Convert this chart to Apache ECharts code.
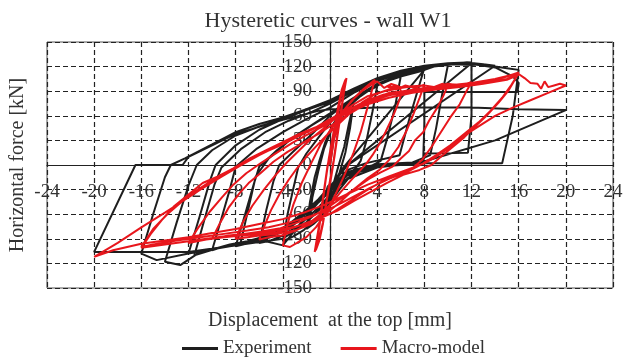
<!DOCTYPE html>
<html>
<head>
<meta charset="utf-8">
<script src="https://cdn.jsdelivr.net/npm/echarts@6/dist/echarts.min.js"></script>
<style>html,body{margin:0;padding:0;background:#fff}#c{width:623px;height:357px}</style>
</head>
<body>
<div id="c"></div>
<script>
// ---- Text ----
var chartTitle = 'Hysteretic curves - wall W1';
var xName = 'Displacement  at the top [mm]';
var yName = 'Horizontal force [kN]';
var seriesNames = ['Experiment', 'Macro-model'];

// ---- Axis ticks ----
var xTicks = {min: -24, max: 24, step: 4};
var yTicks = {min: -150, max: 150, step: 30};

// ---- Experiment (black) cycles: [displacement mm, force kN] ----
var expCycle2 = [[0,0],[0.3,30],[0.7,52],[1.2,65],[1.6,72],[2,76],[1.7,45],[1.3,15],[0.9,-5],[0.4,-30],[-0.2,-50],[-0.8,-64],[-1.4,-72],[-2,-78],[-1.7,-45],[-1.3,-15],[-0.9,5],[-0.4,28],[0.2,48],[0.8,62],[1.4,71],[2,75]];
var expCycle2b = [[1.6,50],[1.2,22],[0.7,-2],[0.2,-28],[-0.5,-52],[-1.2,-68],[-1.8,-76],[-1.5,-40],[-1.0,-8],[-0.5,20],[0.2,46],[1.0,64],[1.8,74]];
var expCycle4 = [[2.6,84],[3.3,91],[4,96],[3.6,65],[3.1,30],[2.6,5],[1.8,-12],[0.8,-30],[-0.2,-50],[-1.2,-66],[-2.2,-79],[-3.1,-87],[-4,-93],[-3.6,-60],[-3.1,-28],[-2.7,-3],[-2,14],[-1,33],[0,52],[1,68],[2,80],[3,89],[4,97]];
var expCycle6 = [[5,103],[6,108],[5.5,70],[4.8,30],[4.3,5],[3,-5],[1.5,-16],[0.3,-32],[-1,-52],[-2.5,-72],[-4,-86],[-5,-92],[-6,-95],[-5.4,-55],[-4.8,-20],[-4.3,0],[-3,18],[-1.5,38],[0,60],[2,82],[4,99],[6,109]];
var expCycle8 = [[7,113],[8,116],[1.2,-2],[0.4,-20],[-1,-45],[-3,-72],[-5,-88],[-6.5,-94],[-8,-99],[-7.2,-60],[-6.5,-25],[-6,-2],[-4.5,18],[-3,35],[-1.2,52],[0,63],[2,82],[4,99],[6,110],[8,118]];
var expCycle8b = [[6.8,60],[5.9,12],[3,2],[1.5,-6],[0.2,-26],[-1.5,-52],[-3.5,-78],[-5.5,-90],[-7.6,-96],[-6.9,-52],[-6.3,-14],[-5.2,8],[-3.6,28],[-1.6,48],[0,62],[1.5,76],[3.5,94],[5.5,106],[7.6,114]];
var expCycle10 = [[9,121],[10,122],[9.5,85],[9,45],[8.5,12],[7,3],[4,1],[2,-6],[0.6,-24],[-1,-46],[-3,-70],[-5,-85],[-7,-93],[-8.5,-97],[-10,-104],[-9.2,-65],[-8.5,-30],[-8,-2],[-6.2,20],[-4,40],[-2,56],[0,70],[2,88],[4,102],[6,112],[8,119],[10,123]];
var expCycle12 = [[11,124],[12,125],[12,60],[11.7,15],[8,14],[7.9,2],[4,0],[1.5,-10],[0,-30],[-2,-55],[-4,-78],[-5.7,-91],[-8.5,-97],[-10,-103],[-12,-108],[-11,-60],[-10.2,-20],[-9.7,0],[-8,24],[-6,43],[-4,56],[-2,67],[0,77],[2,92],[4,104],[6,113],[8,120],[10,123],[12,124]];
var expCycle12b = [[1.5,0],[0.5,-18],[-1,-42],[-3,-68],[-5,-86],[-7,-94],[-9,-99],[-11.5,-110],[-10.6,-64],[-9.8,-24],[-9.2,-3],[-7.5,20],[-5.5,40],[-3.5,54],[-1.5,65],[0,75],[2.5,94],[5,108],[7.5,118],[10.5,123],[12,122]];
var expCycle14 = [[13,123],[14,121],[1,-5],[0,-30],[-2,-62],[-4,-98],[-5.7,-92],[-8.5,-98],[-11,-106],[-12.7,-122],[-14,-118],[-13,-70],[-12,-25],[-11.3,0],[-10,18],[-8,36],[-6,47],[-4,56],[-2,67],[0,79],[2,93],[4,106],[6,115],[8,121],[10,124],[11.6,125],[13,123],[14,120]];
var expCycle16 = [[15,118],[16,116],[15.5,60],[14.6,2],[11,2],[7.9,2],[4,-2],[1,-15],[0,-40],[-2,-70],[-4,-90],[-6,-94],[-8.5,-99],[-12,-108],[-14.7,-116],[-16,-108],[-15,-60],[-14,-15],[-13.5,0],[-12.3,8],[-10,25],[-8,40],[-6,50],[-4,58],[-2,68],[0,79],[2,93],[4,105],[6,115],[8,121],[11.6,124],[14,119],[15.5,108],[16,100],[15.9,89],[12,89],[8,89],[8,50],[7.9,4]];
var expCycle20 = [[4,-3],[1,-20],[0,-42],[-2,-70],[-4,-90],[-8,-98],[-12,-106],[-16,-106],[-20,-106],[-16.5,0],[-12.5,0],[-12,10],[-8,38],[-4,55],[-1,66],[0,68],[4,70],[8,70],[12,70],[16,68],[20,67],[14,30],[7.9,4],[4,0],[1,-10]];

// ---- Macro-model (red) cycles ----
var modCycle1 = [[0,0],[0.3,28],[0.6,55],[0.9,82],[1.2,98],[1.4,106],[1.2,90],[1.0,70],[0.7,42],[0.4,12],[0.1,-15],[-0.3,-45],[-0.6,-72],[-0.9,-92],[-1.2,-104],[-1.0,-85],[-0.7,-55],[-0.4,-22],[-0.1,8],[0.3,40],[0.7,72],[1.0,92],[1.3,104],[1.1,82],[0.7,45],[0.3,5],[-0.2,-35],[-0.6,-70],[-1.0,-95],[-1.3,-106],[-1.0,-80],[-0.6,-40],[-0.2,0]];
var modCycle4 = [[0.3,30],[0.8,55],[1.5,72],[2.2,84],[2.8,92],[3.3,98],[3.8,104],[3.5,88],[3.1,66],[2.6,40],[2.0,15],[1.3,-10],[0.5,-35],[-0.3,-58],[-1.2,-76],[-2.0,-88],[-2.8,-95],[-3.4,-100],[-4,-98],[-3.6,-72],[-3.1,-48],[-2.4,-22],[-1.6,2],[-0.8,25],[0,42],[0.9,62],[1.8,78],[2.7,90],[3.4,97],[4,102]];
var modCycle6 = [[4.6,94],[5.2,99],[5.8,96],[6.1,88],[5.7,72],[5.3,58],[4.7,40],[4.2,26],[3.6,12],[3.1,2],[2.4,-9],[1.7,-20],[0.9,-33],[0.1,-47],[-0.8,-60],[-1.8,-71],[-2.9,-80],[-4.1,-86],[-5.2,-88],[-6,-91],[-5.5,-72],[-5.0,-55],[-4.3,-36],[-3.5,-18],[-2.8,-4],[-2.0,10],[-1.1,24],[-0.3,36],[0.6,48],[1.6,62],[2.7,76],[3.8,86],[5,92],[6,95]];
var modCycle8 = [[4.8,96],[5.6,92],[6.4,97],[7.2,94],[8,98],[7.6,82],[7.1,63],[6.5,42],[5.8,22],[5,6],[4.2,-6],[3.2,-16],[2,-30],[0.8,-46],[-0.4,-60],[-1.6,-72],[-3,-80],[-4.5,-84],[-6,-86],[-7,-88],[-8,-90],[-7.4,-70],[-6.6,-50],[-5.6,-30],[-4.6,-12],[-3.6,4],[-2.6,18],[-1.6,32],[-0.6,44],[0.5,58],[1.8,72],[3.2,84],[4.6,90],[6,94],[7,96],[8,97]];
var modCycle10 = [[8.8,95],[9.5,99],[10,97],[9.6,84],[9.1,70],[8.4,54],[7.9,40],[7.2,30],[6.7,17],[6,8],[5.3,-2],[4.3,-9],[3.3,-17],[2.3,-27],[1.2,-38],[0,-50],[-1.3,-61],[-2.7,-70],[-4.2,-77],[-5.8,-81],[-7.3,-84],[-8.6,-86],[-10,-90],[-9.3,-70],[-8.6,-52],[-7.7,-35],[-6.9,-22],[-5.9,-10],[-4.8,4],[-3.6,16],[-2.3,27],[-1,38],[0.3,50],[1.6,62],[3,74],[4.5,84],[6.2,90],[8,92],[9.2,95],[10,98]];
var modCycle12 = [[9,95],[10,99],[11,97],[12,101],[11.5,88],[11,74],[10.2,58],[9.4,40],[8.6,22],[7.8,6],[7,-4],[5.8,-10],[4.4,-20],[3,-32],[1.6,-45],[0.2,-58],[-1.5,-68],[-3,-76],[-4.5,-82],[-6,-84],[-7.5,-86],[-9,-88],[-10.5,-91],[-12,-95],[-11.2,-77],[-10.2,-57],[-9.2,-40],[-8.2,-24],[-7.1,-10],[-5.8,3],[-4.5,15],[-3.2,27],[-1.8,38],[-0.5,48],[0.8,60],[2,70],[3.5,80],[5,88],[6.5,90],[8,94],[9.5,96],[11,98],[12,100]];
var modCycle16a = [[13,101],[14,104],[15,108],[16,113],[15.6,102],[15.1,90],[14.3,76],[13.4,62],[12.4,48],[11.4,34],[10.4,22],[9.4,10],[8.6,0],[7.6,-6],[6.2,-12],[4.8,-22],[3.4,-33],[2,-44],[0.6,-56],[-1,-66],[-2.6,-74],[-4.2,-79],[-6,-82],[-8,-85],[-10,-89],[-12,-93],[-14,-97],[-16,-101],[-15.2,-84],[-14.2,-66],[-13.2,-50],[-12,-36],[-10.8,-22],[-9.5,-14],[-8.2,-4],[-6.8,8],[-5.4,18],[-4,28],[-2.6,38],[-1.2,46],[0,56],[1.4,66],[3,78],[4.6,86],[6.2,90],[8,94],[10,97],[12,100],[14,105],[16,112]];
var modCycle16b = [[15.4,98],[14.6,82],[13.6,66],[12.6,52],[11.4,38],[10.2,24],[9,12],[7.9,2],[6.6,-8],[5,-17],[3.4,-28],[1.8,-40],[0.2,-52],[-1.6,-62],[-3.4,-70],[-5.2,-76],[-7,-80],[-9,-84],[-11,-88],[-13,-92],[-15,-97],[-16,-100],[-15,-78],[-13.8,-60],[-12.6,-45],[-11.2,-30],[-9.8,-17],[-8.4,-6],[-7,5],[-5.6,15],[-4.2,24],[-2.8,34],[-1.4,44],[0,54],[1.6,64],[3.2,76],[5,85],[7,90],[9,93],[11,96],[13,99],[15,105],[16,111]];
var modCycle20 = [[16.5,106],[17,100],[17.6,99],[17.9,93],[18.2,102],[18.5,95],[19,97],[19.5,99],[20,97],[18.5,88],[17,79],[15.5,70],[14,60],[12.7,48],[11.4,36],[10.2,22],[9,10],[8,2],[6.5,-6],[5,-14],[3.2,-24],[1.4,-36],[-0.4,-48],[-2.2,-58],[-4,-66],[-6,-72],[-8,-78],[-10,-83],[-12,-88],[-14,-92],[-16,-96],[-18.4,-104],[-20,-112],[-18,-95],[-16,-76],[-14,-58],[-12.7,-46],[-11,-30],[-9.3,-15],[-7.5,0],[-6,12],[-4,26],[-2,40],[0,54],[1.6,64],[3.2,74],[5,82],[7,88],[9,92],[11,95],[13,99],[15,104],[16,110]];

var expPath = [].concat(expCycle2, expCycle2b, expCycle4, expCycle6, expCycle8, expCycle8b, expCycle10, expCycle12, expCycle12b, expCycle14, expCycle16, expCycle20);
var modPath = [].concat(modCycle1, modCycle4, modCycle6, modCycle8, modCycle10, modCycle12, modCycle16a, modCycle16b, modCycle20);

var FONT = "'Liberation Serif', 'Times New Roman', serif";
var chart = echarts.init(document.getElementById('c'), null, {renderer: 'canvas'});
chart.setOption({
  animation: false,
  backgroundColor: '#fff',
  title: {
    text: chartTitle, left: 323, top: 5, textAlign: 'center',
    textStyle: {fontFamily: FONT, fontSize: 22, fontWeight: 'normal', color: '#333'}
  },
  legend: {
    data: seriesNames, left: 177, top: 334, itemWidth: 36, itemHeight: 3, itemGap: 29,
    icon: 'rect',
    textStyle: {fontFamily: FONT, fontSize: 19, color: '#333'}
  },
  grid: {left: 47, right: 10, top: 42, bottom: 69, show: true, borderColor: '#555', borderWidth: 1,
         containLabel: false, outerBoundsMode: 'none'},
  xAxis: {
    type: 'value', min: xTicks.min, max: xTicks.max, interval: xTicks.step,
    name: xName, nameLocation: 'middle', nameGap: 23,
    nameTextStyle: {fontFamily: FONT, fontSize: 20, color: '#333'},
    axisLine: {onZero: true, lineStyle: {color: '#222', width: 1.2}},
    axisTick: {show: false},
    axisLabel: {fontFamily: FONT, fontSize: 19, color: '#333', margin: -105},
    splitLine: {show: true, lineStyle: {color: '#222', width: 1.2, type: [5, 3]}}
  },
  yAxis: {
    type: 'value', min: yTicks.min, max: yTicks.max, interval: yTicks.step,
    name: yName, nameLocation: 'middle', nameGap: 19,
    nameTextStyle: {fontFamily: FONT, fontSize: 20, color: '#333'},
    axisLine: {onZero: true, lineStyle: {color: '#222', width: 1.2}},
    axisTick: {show: false},
    axisLabel: {fontFamily: FONT, fontSize: 19, color: '#333', margin: -265},
    splitLine: {show: true, lineStyle: {color: '#222', width: 1.2, type: [5, 3]}}
  },
  series: [
    {name: seriesNames[0], type: 'line', data: expPath, showSymbol: false, symbol: 'none',
     color: '#1e1e1e', lineStyle: {color: '#1e1e1e', width: 2}},
    {name: seriesNames[1], type: 'line', data: modPath, showSymbol: false, symbol: 'none',
     color: '#e8161c', lineStyle: {color: '#e8161c', width: 2}}
  ]
});
</script>
</body>
</html>
